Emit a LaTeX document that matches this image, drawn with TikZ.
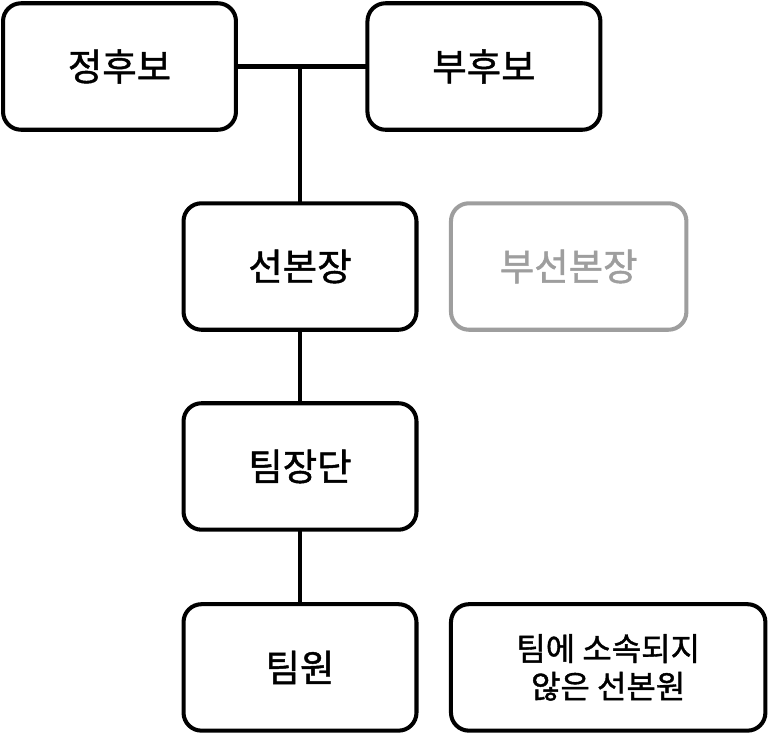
\documentclass[tikz,border=0pt]{standalone}
\usepackage{fontspec}
\setmainfont{Noto Sans CJK KR}
\newfontfamily\orgfont{Noto Sans CJK KR}[FakeBold=1.2]
\usepackage{xcolor}
\usetikzlibrary{positioning}
\definecolor{OrgBlack}{HTML}{000000}
\definecolor{OrgGray}{HTML}{9E9E9E}
\tikzset{
  orgBox/.style={draw=OrgBlack, rounded corners=0.36cm, line width=2.3pt,
    fill=white, align=center, inner sep=2pt, outer sep=0pt,
    minimum width=4.66cm, minimum height=2.53cm,
    font=\orgfont\fontsize{21.3}{25}\selectfont},
  orgBoxGray/.style={orgBox, draw=OrgGray, text=OrgGray},
  orgLink/.style={draw=OrgBlack, line width=2.3pt},
}
\begin{document}
\begin{tikzpicture}[x=0.02cm, y=-0.02cm]
  \useasboundingbox (0,0) rectangle (768,735);

  % candidates
  \node[orgBox] (jeong) at (119.5,66.5) {정후보};
  \node[orgBox, right=2.63cm of jeong] (bu) {부후보};

  % campaign chain
  \node[orgBox] (seon) at (300,266.5) {선본장};
  \node[orgBoxGray, minimum width=4.71cm, right=0.69cm of seon] (buseon) {부선본장};
  \node[orgBox, below=1.47cm of seon] (timjang) {팀장단};
  \node[orgBox, below=1.49cm of timjang] (timwon) {팀원};
  \node[orgBox, minimum width=6.29cm, right=0.69cm of timwon,
    font=\orgfont\fontsize{18.2}{21.5}\selectfont] (etc) {팀에 소속되지\\않은 선본원};

  \draw[orgLink] (jeong) -- (bu);
  \draw[orgLink] (seon.north) -- (seon.north |- jeong.east);
  \draw[orgLink] (seon) -- (timjang);
  \draw[orgLink] (timjang) -- (timwon);
\end{tikzpicture}
\end{document}
